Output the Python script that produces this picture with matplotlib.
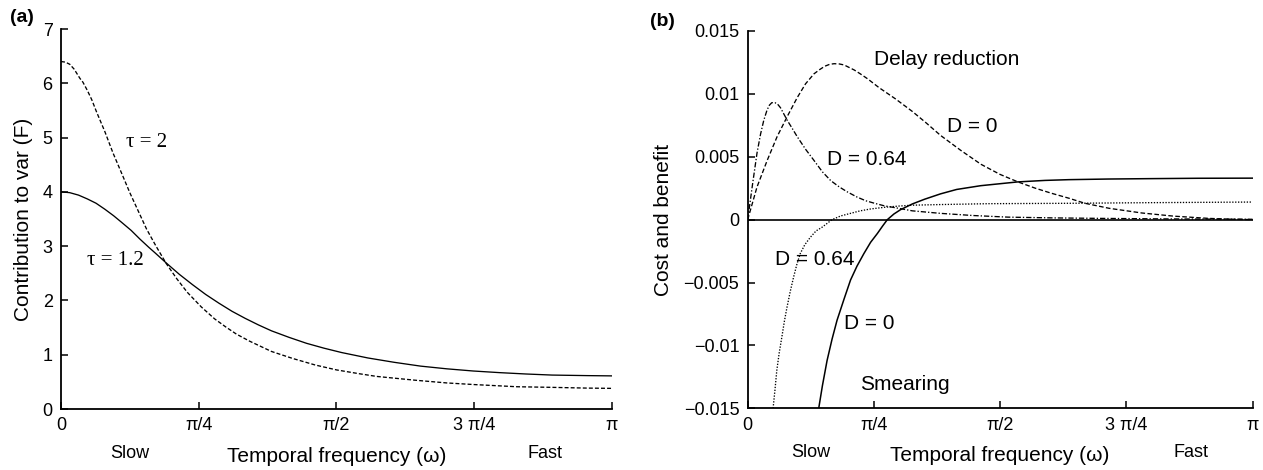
import numpy as np
import matplotlib
matplotlib.use("Agg")
import matplotlib.pyplot as plt

plt.rcParams['font.family'] = ['Liberation Sans', 'DejaVu Sans']

PI = np.pi

# ---------------- Panel (a) data ----------------
omega_tau2 = [0, 0.025, 0.05, 0.075, 0.108, 0.125, 0.15, 0.175, 0.203, 0.25, 0.296, 0.35,
              0.393, 0.44, 0.487, 0.54, 0.60, 0.66, 0.72, 0.80, 0.876, 0.94, 1.0, 1.075,
              1.2, 1.322, 1.45, 1.571, 1.7, 1.8, 2.02, 2.2, 2.356, 2.6, 2.78, 3.0, 3.1416]
F_tau2 = [6.40, 6.39, 6.35, 6.26, 6.09, 6.02, 5.87, 5.70, 5.47, 5.11, 4.72, 4.31,
          3.98, 3.65, 3.32, 3.01, 2.68, 2.40, 2.15, 1.88, 1.66, 1.51, 1.38, 1.25,
          1.06, 0.93, 0.81, 0.72, 0.65, 0.60, 0.53, 0.48, 0.45, 0.41, 0.40, 0.385, 0.38]

omega_tau12 = [0, 0.05, 0.1, 0.15, 0.2, 0.25, 0.3, 0.345, 0.4, 0.45, 0.5, 0.535, 0.6,
               0.675, 0.75, 0.825, 0.9, 0.975, 1.05, 1.125, 1.2, 1.3, 1.4, 1.5, 1.6,
               1.75, 1.9, 2.05, 2.2, 2.35, 2.5, 2.65, 2.8, 3.0, 3.1416]
F_tau12 = [4.00, 3.985, 3.94, 3.87, 3.79, 3.68, 3.56, 3.44, 3.29, 3.13, 2.98, 2.88, 2.69,
           2.48, 2.29, 2.11, 1.95, 1.80, 1.67, 1.55, 1.44, 1.32, 1.21, 1.12, 1.04,
           0.94, 0.86, 0.79, 0.74, 0.70, 0.67, 0.645, 0.625, 0.615, 0.61]

a_yticks = [0, 1, 2, 3, 4, 5, 6, 7]
x_ticks = [0, PI / 4, PI / 2, 3 * PI / 4, PI]
x_ticklabels = ['0', 'π/4', 'π/2', '3 π/4', 'π']

# ---------------- Panel (b) data ----------------
omega_delay_D0 = [0, 0.058, 0.121, 0.183, 0.246, 0.308, 0.36, 0.413, 0.45, 0.48, 0.51,
                  0.538, 0.57, 0.60, 0.663, 0.70, 0.746, 0.817, 0.92, 1.025, 1.11, 1.20,
                  1.327, 1.452, 1.57, 1.682, 1.79, 1.89, 2.0, 2.099, 2.25, 2.453, 2.65,
                  2.87, 3.0, 3.1416]
delay_D0 = [0, 0.0026, 0.0047, 0.0066, 0.0082, 0.0097, 0.0108, 0.0116, 0.01195, 0.0122,
            0.01235, 0.0124, 0.01238, 0.0123, 0.0119, 0.0116, 0.0112, 0.0105, 0.0096,
            0.0086, 0.0077, 0.0067, 0.0055, 0.0044, 0.0036, 0.0030, 0.0025, 0.0021,
            0.0017, 0.0013, 0.0009, 0.00053, 0.00028, 0.0001, 0.00004, 0.0]

omega_delay_D064 = [0, 0.03, 0.058, 0.08, 0.10, 0.12, 0.135, 0.15, 0.169, 0.185, 0.204,
                    0.225, 0.246, 0.275, 0.308, 0.36, 0.413, 0.465, 0.517, 0.57, 0.621,
                    0.68, 0.735, 0.79, 0.85, 0.94, 1.025, 1.2, 1.4, 1.62, 1.9, 2.2, 2.6,
                    3.1416]
delay_D064 = [0, 0.0028, 0.0053, 0.0068, 0.0079, 0.0087, 0.0091, 0.0093, 0.0093, 0.0092,
              0.0089, 0.0084, 0.0079, 0.0073, 0.0066, 0.0056, 0.0047, 0.0038, 0.0031,
              0.0026, 0.0022, 0.0018, 0.0015, 0.0013, 0.0011, 0.0009, 0.0007, 0.0005,
              0.00033, 0.0002, 0.00014, 0.0001, 0.00006, 0.00003]

omega_smear_D0 = [0.442, 0.465, 0.494, 0.525, 0.556, 0.60, 0.64, 0.68, 0.723, 0.765,
                  0.807, 0.84, 0.869, 0.91, 0.952, 1.025, 1.1, 1.2, 1.3, 1.45, 1.68,
                  1.85, 2.0, 2.245, 2.5, 2.8, 3.1416]
smear_D0 = [-0.015, -0.0132, -0.0112, -0.0095, -0.0080, -0.0063, -0.0048, -0.0037,
            -0.0027, -0.0018, -0.0011, -0.0005, 0.0, 0.00045, 0.0008, 0.00125, 0.00162,
            0.00205, 0.0024, 0.0027, 0.0030, 0.00312, 0.00318, 0.00323, 0.00326,
            0.00329, 0.0033]

omega_smear_D064 = [0.158, 0.170, 0.181, 0.196, 0.213, 0.228, 0.244, 0.265, 0.285, 0.305,
                    0.327, 0.355, 0.390, 0.425, 0.463, 0.525, 0.58, 0.64, 0.70, 0.765,
                    0.85, 0.94, 1.025, 1.2, 1.5, 2.0, 2.5, 3.1416]
smear_D064 = [-0.015, -0.0135, -0.0120, -0.0106, -0.0093, -0.0081, -0.0070, -0.0057,
              -0.0046, -0.0036, -0.0027, -0.0020, -0.0014, -0.0009, -0.0006, 0.0,
              0.0003, 0.0005, 0.0007, 0.00085, 0.00098, 0.00108, 0.00115, 0.0012,
              0.00127, 0.0013, 0.00135, 0.0014]

b_yticks = [-0.015, -0.01, -0.005, 0, 0.005, 0.01, 0.015]
b_yticklabels = ['\u22120.015', '\u22120.01', '\u22120.005', '0', '0.005', '0.01', '0.015']

# ---------------- Figure ----------------
W, H = 1263, 470
fig = plt.figure(figsize=(W / 100, H / 100), dpi=100)

axA = fig.add_axes([61 / W, 1 - 409 / H, 551 / W, 380 / H])
axB = fig.add_axes([747.7 / W, 1 - 408.3 / H, 504.8 / W, 377.3 / H])

TICK_FS = 13
LAB_FS = 15
SF_FS = 13
LW = 0.95

for ax in (axA, axB):
    for s in ('top', 'right'):
        ax.spines[s].set_visible(False)
    for s in ('left', 'bottom'):
        ax.spines[s].set_linewidth(1.3)
    ax.tick_params(direction='in', length=5, width=1.1, labelsize=TICK_FS, pad=6)
    ax.set_xlim(0, PI)
    ax.set_xticks(x_ticks)
    ax.set_xticklabels(x_ticklabels)
    lab = ax.set_xlabel('Temporal frequency (ω)', fontsize=LAB_FS)
    lab.set_va('center')
    ax.xaxis.set_label_coords(0.5, -0.124)
    for xs, txt in ((0.39, 'Slow'), (2.76, 'Fast')):
        ax.text(xs, -0.118, txt, transform=ax.get_xaxis_transform(), ha='center',
                va='center', fontsize=SF_FS)

# Panel (a)
axA.plot(omega_tau12, F_tau12, color='black', lw=LW, ls='-')
axA.plot(omega_tau2, F_tau2, color='black', lw=LW, ls=(0, (3, 1.6)))
axA.set_ylim(0, 7)
axA.set_yticks(a_yticks)
axA.set_ylabel('Contribution to var (F)', fontsize=LAB_FS, labelpad=7)
axA.text(0.370, 4.83, 'τ = 2', fontsize=15, family=['Liberation Serif', 'DejaVu Serif'],
         ha='left', va='baseline')
axA.text(0.146, 2.65, 'τ = 1.2', fontsize=15, family=['Liberation Serif', 'DejaVu Serif'],
         ha='left', va='baseline')

# Panel (b)
axB.axhline(0, color='black', lw=1.2)
axB.plot(omega_delay_D0, delay_D0, color='black', lw=LW, ls=(0, (3.5, 1.8)))
axB.plot(omega_delay_D064, delay_D064, color='black', lw=LW, ls=(0, (4, 1.5, 1, 1.5)))
axB.plot(omega_smear_D0, smear_D0, color='black', lw=1.1, ls='-')
axB.plot(omega_smear_D064, smear_D064, color='black', lw=LW, ls=(0, (1, 1.2)))
axB.set_ylim(-0.015, 0.015)
axB.set_yticks(b_yticks)
axB.set_yticklabels(b_yticklabels)
axB.set_ylabel('Cost and benefit', fontsize=LAB_FS, labelpad=8)

lab_fs = 15
axB.text(0.784, 0.01227, 'Delay reduction', fontsize=lab_fs, ha='left', va='baseline')
axB.text(1.24, 0.00693, 'D = 0', fontsize=lab_fs, ha='left', va='baseline')
axB.text(0.494, 0.00432, 'D = 0.64', fontsize=lab_fs, ha='left', va='baseline')
axB.text(0.171, -0.00363, 'D = 0.64', fontsize=lab_fs, ha='left', va='baseline')
axB.text(0.602, -0.00867, 'D = 0', fontsize=lab_fs, ha='left', va='baseline')
axB.text(0.698, -0.01356, 'Smearing', fontsize=lab_fs, ha='left', va='baseline')

fig.text(10 / W, 1 - 9 / H, '(a)', fontsize=14, fontweight='bold', ha='left', va='top')
fig.text(650 / W, 1 - 13 / H, '(b)', fontsize=14, fontweight='bold', ha='left', va='top')

fig.savefig('out.png', dpi=100)
